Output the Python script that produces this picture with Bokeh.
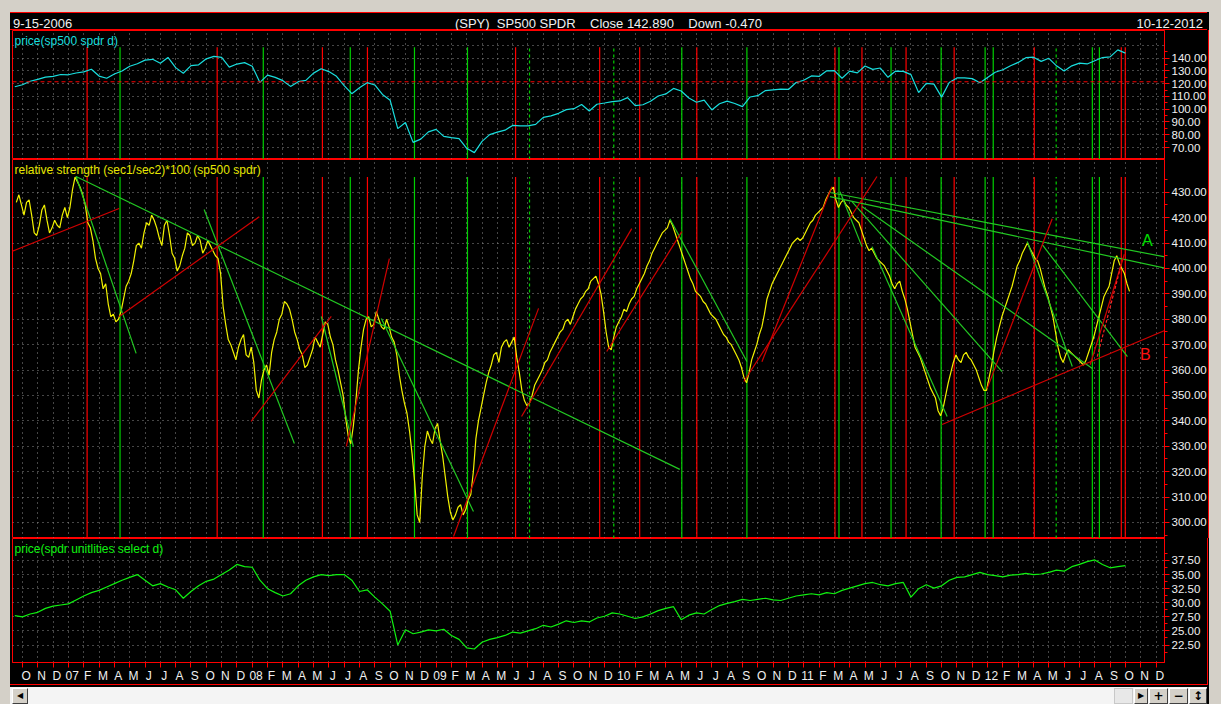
from bokeh.plotting import figure
from bokeh.layouts import column, row
from bokeh.models import Range1d, FixedTicker, NumeralTickFormatter, Label, Div, Span, Spacer
from bokeh.embed import file_html
from bokeh.resources import INLINE

FONT = "Liberation Sans"
RED = "#ff0000"

# ---------------- data (x = months since 2006-09-01) ----------------
spy_x0, spy_dx = 0.5, 0.5
spy = [117.6, 119.2, 121.9, 123.4, 125.2, 125.7, 127.2, 127.0, 128.4, 129.3,
       131.3, 126.0, 124.3, 127.6, 130.0, 133.7, 135.6, 138.5, 139.1, 136.0,
       140.6, 132.6, 128.2, 134.2, 134.8, 139.5, 141.4, 140.6, 133.0, 135.4,
       136.5, 133.7, 121.0, 126.7, 125.0, 122.4, 117.9, 121.6, 122.6, 128.3,
       131.7, 129.5, 125.8, 118.5, 112.2, 116.9, 120.8, 119.0, 111.6, 107.1,
       84.8, 89.6, 74.0, 76.6, 82.3, 84.2, 78.7, 77.7, 77.0, 69.4,
       66.0, 74.8, 80.1, 82.0, 83.6, 87.3, 86.9, 87.0, 88.1, 93.6,
       94.8, 96.8, 99.7, 100.4, 103.7, 98.6, 103.9, 104.9, 106.0, 106.5,
       109.1, 102.8, 103.5, 106.2, 110.4, 112.0, 116.3, 114.3, 108.8, 105.5,
       107.1, 99.4, 104.3, 106.4, 104.5, 102.0, 109.6, 110.6, 114.6, 115.2,
       115.8, 115.5, 120.9, 122.7, 126.1, 125.7, 130.1, 130.3, 124.3, 129.9,
       128.5, 133.9, 131.2, 132.3, 125.0, 129.9, 129.7, 127.1, 113.0, 120.2,
       119.7, 109.5, 120.9, 124.5, 124.6, 124.0, 120.8, 124.9, 129.0, 130.9,
       134.1, 136.7, 140.4, 140.8, 137.5, 139.9, 134.0, 130.0, 134.0, 136.1,
       135.5, 138.0, 140.5, 141.0, 146.5, 144.0]

rs_x0, rs_dx = 0.6, 1.0 / 6.0
rs = [426, 429, 425, 421, 426, 427, 421, 414, 413, 417, 423, 425, 419, 414, 416, 419, 417, 416, 421, 424,
      420, 424, 431, 436, 434, 432, 429, 425, 418, 416, 411, 404, 400, 398, 392, 394, 386, 381, 382, 379,
      380, 383, 388, 393, 395, 398, 403, 409, 410, 408, 414, 418, 417, 421, 419, 416, 412, 409, 417, 419,
      413, 406, 404, 399, 401, 405, 408, 414, 413, 409, 410, 413, 411, 406, 408, 411, 409, 407, 405, 404,
      398, 385, 378, 372, 370, 367, 364, 369, 372, 374, 366, 365, 369, 363, 352, 349, 356, 360, 362, 358,
      367, 372, 375, 380, 382, 387, 386, 384, 380, 375, 372, 368, 366, 361, 362, 365, 368, 373, 371, 369,
      374, 379, 378, 373, 370, 364, 360, 355, 350, 341, 334, 331, 338, 348, 360, 369, 376, 380, 381, 377,
      378, 383, 380, 377, 376, 380, 377, 373, 371, 366, 358, 352, 347, 343, 336, 327, 316, 303, 300, 318,
      330, 336, 333, 331, 337, 339, 332, 326, 318, 310, 304, 301, 303, 306, 307, 303, 305, 309, 311, 320,
      333, 340, 345, 350, 355, 359, 362, 366, 367, 363, 369, 371, 372, 369, 371, 373, 365, 359, 352, 348,
      346, 347, 350, 354, 356, 358, 360, 363, 364, 367, 369, 371, 373, 375, 376, 379, 380, 378, 381, 384,
      386, 388, 389, 391, 392, 395, 396, 397, 394, 390, 383, 375, 369, 368, 373, 377, 379, 381, 384, 383,
      386, 388, 389, 392, 394, 396, 398, 401, 403, 406, 408, 410, 412, 414, 415, 416, 419, 417, 414, 411,
      408, 405, 402, 399, 396, 394, 391, 390, 389, 387, 386, 384, 382, 381, 380, 378, 376, 374, 373, 371,
      370, 368, 366, 364, 361, 357, 355, 359, 364, 367, 370, 374, 377, 382, 388, 391, 394, 396, 398, 400,
      402, 404, 406, 408, 410, 411, 412, 411, 412, 414, 416, 418, 419, 421, 422, 423, 424, 427, 429, 431,
      432, 427, 424, 426, 427, 425, 424, 422, 420, 419, 418, 415, 412, 409, 407, 408, 406, 404, 403, 402,
      401, 399, 397, 394, 392, 394, 395, 391, 388, 384, 379, 374, 369, 367, 365, 362, 359, 356, 353, 351,
      349, 344, 342, 345, 350, 355, 359, 363, 366, 364, 363, 366, 367, 365, 364, 362, 360, 357, 354, 352,
      352, 357, 362, 368, 373, 377, 381, 384, 387, 390, 393, 397, 401, 403, 406, 408, 410, 408, 406, 404,
      403, 400, 396, 392, 389, 385, 381, 375, 369, 365, 363, 366, 368, 367, 366, 365, 364, 363, 362, 364,
      367, 370, 373, 377, 381, 385, 389, 391, 393, 398, 403, 405, 402, 400, 398, 394, 391]

xlu_x0, xlu_dx = 0.5, 0.5
xlu = [27.7, 27.5, 28.0, 28.3, 29.0, 29.4, 29.6, 29.8, 30.5, 31.2,
       31.8, 32.2, 32.8, 33.4, 34.0, 34.5, 35.0, 34.0, 33.0, 33.4,
       32.8, 32.3, 30.8, 32.0, 33.0, 33.8, 34.2, 35.0, 35.8, 36.8,
       36.4, 36.3, 34.0, 32.5, 31.8, 31.2, 31.6, 33.0, 34.0, 34.6,
       35.0, 34.8, 35.0, 35.0, 34.0, 32.0, 32.3, 31.0, 29.8, 28.5,
       22.5, 25.2, 24.5, 24.8, 25.2, 25.0, 25.3, 24.2, 23.5, 22.0,
       21.8, 23.0, 23.5, 23.8, 24.2, 24.8, 24.6, 25.0, 25.4, 26.0,
       25.7, 26.2, 26.8, 26.5, 26.8, 26.6, 27.3, 27.6, 28.2, 28.0,
       27.6, 27.2, 27.5, 28.0, 28.6, 29.0, 29.3, 27.0, 27.8, 28.2,
       28.0, 28.8, 29.5, 29.9, 30.2, 30.6, 30.4, 30.6, 30.8, 30.5,
       30.4, 30.8, 31.2, 31.4, 31.6, 31.4, 31.8, 31.6, 32.2, 32.6,
       33.0, 33.4, 33.6, 33.2, 33.0, 33.4, 33.6, 31.0, 32.5, 33.2,
       32.6, 33.0, 34.0, 34.5, 34.6, 35.0, 35.4, 35.0, 34.8, 34.6,
       34.9, 35.0, 35.2, 35.0, 35.1, 35.4, 35.8, 35.6, 36.4, 36.8,
       37.3, 37.6, 36.8, 36.2, 36.4, 36.6]

# event markers (months since 2006-09-01)
red_events = [5.22, 13.71, 20.58, 23.52, 33.19, 38.68, 41.29, 45.02, 54.04,
              55.8, 58.68, 61.82, 67.05, 72.73, 72.99]
green_events = [7.37, 16.72, 22.4, 26.59, 30.05, 44.04, 48.29, 54.3, 57.7,
                60.97, 63.84, 64.37, 70.84, 71.3]
green_dash_events = [34.1, 39.6, 68.48]

# trend lines on relative strength panel
green_tl_x0 = [4.50, 4.50, 12.86, 24.43, 20.51, 43.26, 53.71, 53.71, 54.37, 55.15, 55.80, 56.46, 66.59, 67.57]
green_tl_y0 = [436.2, 436.2, 423.2, 380.3, 381.1, 419.6, 429.9, 428.3, 430.2, 426.3, 424.4, 408.6, 410.6, 409.4]
green_tl_x1 = [8.42, 43.91, 18.75, 30.44, 22.60, 48.29, 76.5, 76.5, 55.80, 64.95, 70.84, 61.36, 69.53, 73.13]
green_tl_y1 = [366.6, 320.9, 331.1, 304.3, 329.9, 363.4, 403.5, 399.0, 408.6, 359.4, 360.6, 341.7, 361.4, 365.3]

red_tl_x0 = [0.0, 7.31, 15.93, 22.14, 29.14, 33.58, 39.14, 48.09, 49.27, 61.03, 63.97, 70.70]
red_tl_y0 = [406.0, 381.1, 339.8, 330.0, 294.5, 341.7, 367.3, 355.5, 363.3, 338.6, 352.7, 362.1]
red_tl_x1 = [7.31, 16.46, 21.16, 24.95, 34.69, 40.77, 44.04, 56.78, 53.84, 76.5, 68.22, 72.93]
red_tl_y1 = [423.6, 420.4, 381.1, 403.9, 384.3, 415.7, 414.5, 436.2, 432.2, 378.0, 419.6, 405.6]
red_dash_tl = ([71.16], [365.3], [72.73], [401.6])

months = list(range(1, 76))
x_labels = ("O N D 07 F M A M J J A S O N D 08 F M A M J J A S O N D "
            "09 F M A M J J A S O N D 10 F M A M J J A S O N D "
            "11 F M A M J J A S O N D 12 F M A M J J A S O N D").split()

spy_ticks = [70, 80, 90, 100, 110, 120, 130, 140]
rs_ticks = list(range(300, 431, 10))
xlu_ticks = [22.5, 25.0, 27.5, 30.0, 32.5, 35.0, 37.5]

# ---------------- layout ----------------
FW = 1151
RB = 44
TOTAL_W = 2 + FW + RB
xr = Range1d(0.35, 75.55)


def make_panel(h, ylo, yhi, ticks, minors, grid, xaxis=False):
    p = figure(frame_width=FW, frame_height=h, x_range=xr, y_range=Range1d(ylo, yhi),
               output_backend="svg", toolbar_location=None,
               y_axis_location="right", x_axis_location=("below" if xaxis else None),
               min_border_left=2, min_border_right=RB, min_border_top=0,
               min_border_bottom=(17 if xaxis else 0))
    p.background_fill_color = "black"
    p.border_fill_color = "black"
    p.outline_line_color = RED
    p.outline_line_width = 1
    p.xgrid.ticker = FixedTicker(ticks=months)
    p.ygrid.ticker = FixedTicker(ticks=grid)
    for g in (p.xgrid[0], p.ygrid[0]):
        g.grid_line_color = "#8c8c8c"
        g.grid_line_dash = "1 4"
        g.grid_line_width = 1
    ax = p.yaxis[0]
    ax.ticker = FixedTicker(ticks=ticks, minor_ticks=minors)
    ax.formatter = NumeralTickFormatter(format="0.00")
    ax.axis_line_color = RED
    ax.major_tick_line_color = RED
    ax.major_tick_out = 5
    ax.major_tick_in = 0
    ax.minor_tick_line_color = RED
    ax.minor_tick_out = 3
    ax.minor_tick_in = 0
    ax.major_label_text_color = "#f0f0f0"
    ax.major_label_text_font = FONT
    ax.major_label_text_font_size = "11.5px"
    ax.major_label_standoff = 2
    return p


def panel_label(p, text, color, ytop):
    p.add_layout(Label(x=xr.start, y=ytop, x_offset=2, y_offset=-3, text=text,
                       text_color=color, text_font=FONT, text_font_size="12px",
                       text_baseline="top"))


def draw_events(p, ylo, yhi):
    p.segment(x0=red_events, y0=[ylo] * len(red_events), x1=red_events,
              y1=[yhi] * len(red_events), line_color="#ff0000", line_width=1.2)
    p.segment(x0=green_events, y0=[ylo] * len(green_events), x1=green_events,
              y1=[yhi] * len(green_events), line_color="#00d000", line_width=1.2)
    p.segment(x0=green_dash_events, y0=[ylo] * len(green_dash_events), x1=green_dash_events,
              y1=[yhi] * len(green_dash_events), line_color="#00d000", line_width=1.2,
              line_dash="3 3")


# top: SPY price
TOP_LO, TOP_HI = 60.6, 161.7
p_top = make_panel(129, TOP_LO, TOP_HI, spy_ticks, [t + 5 for t in spy_ticks],
                   spy_ticks + [150])
draw_events(p_top, TOP_LO, 148.5)
p_top.add_layout(Span(location=121.5, dimension="width", line_color=RED,
                      line_dash="4 3", line_width=1))
p_top.line([spy_x0 + i * spy_dx for i in range(len(spy))], spy,
           line_color="#19dede", line_width=1.2)
panel_label(p_top, "price(sp500 spdr d)", "#19dede", TOP_HI)

# middle: relative strength
MID_LO, MID_HI = 293.7, 442.9
p_mid = make_panel(379, MID_LO, MID_HI, rs_ticks, [t + 5 for t in rs_ticks] + [295],
                   rs_ticks)
draw_events(p_mid, MID_LO, 436.0)
p_mid.line([rs_x0 + i * rs_dx for i in range(len(rs))], rs,
           line_color="#f2f200", line_width=1.2)
p_mid.segment(x0=green_tl_x0, y0=green_tl_y0, x1=green_tl_x1, y1=green_tl_y1,
              line_color="#22c822", line_width=1.2)
p_mid.segment(x0=red_tl_x0, y0=red_tl_y0, x1=red_tl_x1, y1=red_tl_y1,
              line_color="#d00000", line_width=1.2)
p_mid.segment(x0=red_dash_tl[0], y0=red_dash_tl[1], x1=red_dash_tl[2], y1=red_dash_tl[3],
              line_color="#ff2020", line_width=1.2, line_dash="3 2")
p_mid.add_layout(Label(x=74.43, y=411, text="A", text_color="#00e000", text_font=FONT,
                       text_font_size="16px", text_align="center", text_baseline="middle"))
p_mid.add_layout(Label(x=74.3, y=366, text="B", text_color="#ff1010", text_font=FONT,
                       text_font_size="16px", text_align="center", text_baseline="middle"))
panel_label(p_mid, "relative strength (sec1/sec2)*100 (sp500 spdr)", "#e6e600", MID_HI)

# bottom: utilities price
BOT_LO, BOT_HI = 19.4, 41.4
p_bot = make_panel(123, BOT_LO, BOT_HI, xlu_ticks, [t + 1.25 for t in xlu_ticks] + [21.25],
                   xlu_ticks, xaxis=True)
p_bot.line([xlu_x0 + i * xlu_dx for i in range(len(xlu))], xlu,
           line_color="#10f010", line_width=1.2)
panel_label(p_bot, "price(spdr unitlities select d)", "#10f010", BOT_HI)
xa = p_bot.xaxis[0]
xa.ticker = FixedTicker(ticks=[m + 0.25 for m in months], minor_ticks=months)
xa.major_label_overrides = {m + 0.25: lab for m, lab in zip(months, x_labels)}
xa.axis_line_color = RED
xa.major_tick_line_color = None
xa.major_tick_out = 0
xa.major_tick_in = 0
xa.minor_tick_line_color = RED
xa.minor_tick_out = 5
xa.minor_tick_in = 0
xa.major_label_text_color = "#f0f0f0"
xa.major_label_text_font = FONT
xa.major_label_text_font_size = "12px"
xa.major_label_standoff = 1

for p in (p_top, p_mid):
    p.styles = {"border-right": "1px solid #ff0000"}
p_bot.styles = {"border-right": "1px solid #ff0000", "border-bottom": "1px solid #ff0000"}

title_html = (
    f'<div style="position:relative;width:{TOTAL_W}px;height:18px;color:#f0f0f0;'
    'font-family:\'Liberation Sans\';font-size:13px;white-space:pre;">'
    '<span style="position:absolute;left:3px;top:2px;">9-15-2006</span>'
    '<span style="position:absolute;left:0;right:0;top:2px;text-align:center;">'
    '(SPY)  SP500 SPDR    Close 142.890    Down -0.470</span>'
    '<span style="position:absolute;right:4px;top:2px;">10-12-2012</span></div>')
title_div = Div(text=title_html, width=TOTAL_W, height=18, margin=(0, 0, 0, 0),
                styles={"background-color": "black", "border-top": "1px solid #ff0000",
                        "border-bottom": "1px solid #ff0000"})

btn = ("position:absolute;top:1px;height:16px;background:#d4d0c8;border:1px solid;"
       "border-color:#ffffff #404040 #404040 #ffffff;font-family:'DejaVu Sans';"
       "font-weight:bold;font-size:12px;color:#000;text-align:center;line-height:14px;"
       "box-sizing:border-box;")
scroll_html = (
    f'<div style="position:relative;width:{TOTAL_W}px;height:18px;background:#f4f4f4;">'
    f'<div style="{btn}left:2px;width:16px;font-size:8px;">&#9664;</div>'
    '<div style="position:absolute;top:1px;left:1104px;width:19px;height:16px;'
    'background:#e8e8e8;border:1px solid #c8c8c8;box-sizing:border-box;"></div>'
    f'<div style="{btn}left:1124px;width:14px;font-size:8px;">&#9654;</div>'
    f'<div style="{btn}left:1139px;width:19px;">+</div>'
    f'<div style="{btn}left:1159px;width:19px;">&minus;</div>'
    f'<div style="{btn}left:1179px;width:18px;">&#8597;</div>'
    '</div>')
scroll_div = Div(text=scroll_html, width=TOTAL_W, height=18, margin=(0, 0, 0, 0))

inner = column(title_div, p_top, p_mid, p_bot, Spacer(height=2), scroll_div,
               styles={"background-color": "#000000"})
layout = column(Spacer(height=12),
                row(Spacer(width=10), inner, Spacer(width=12)),
                styles={"background-color": "#d4d0c8"})

open("out.html", "w").write(file_html(layout, INLINE))
